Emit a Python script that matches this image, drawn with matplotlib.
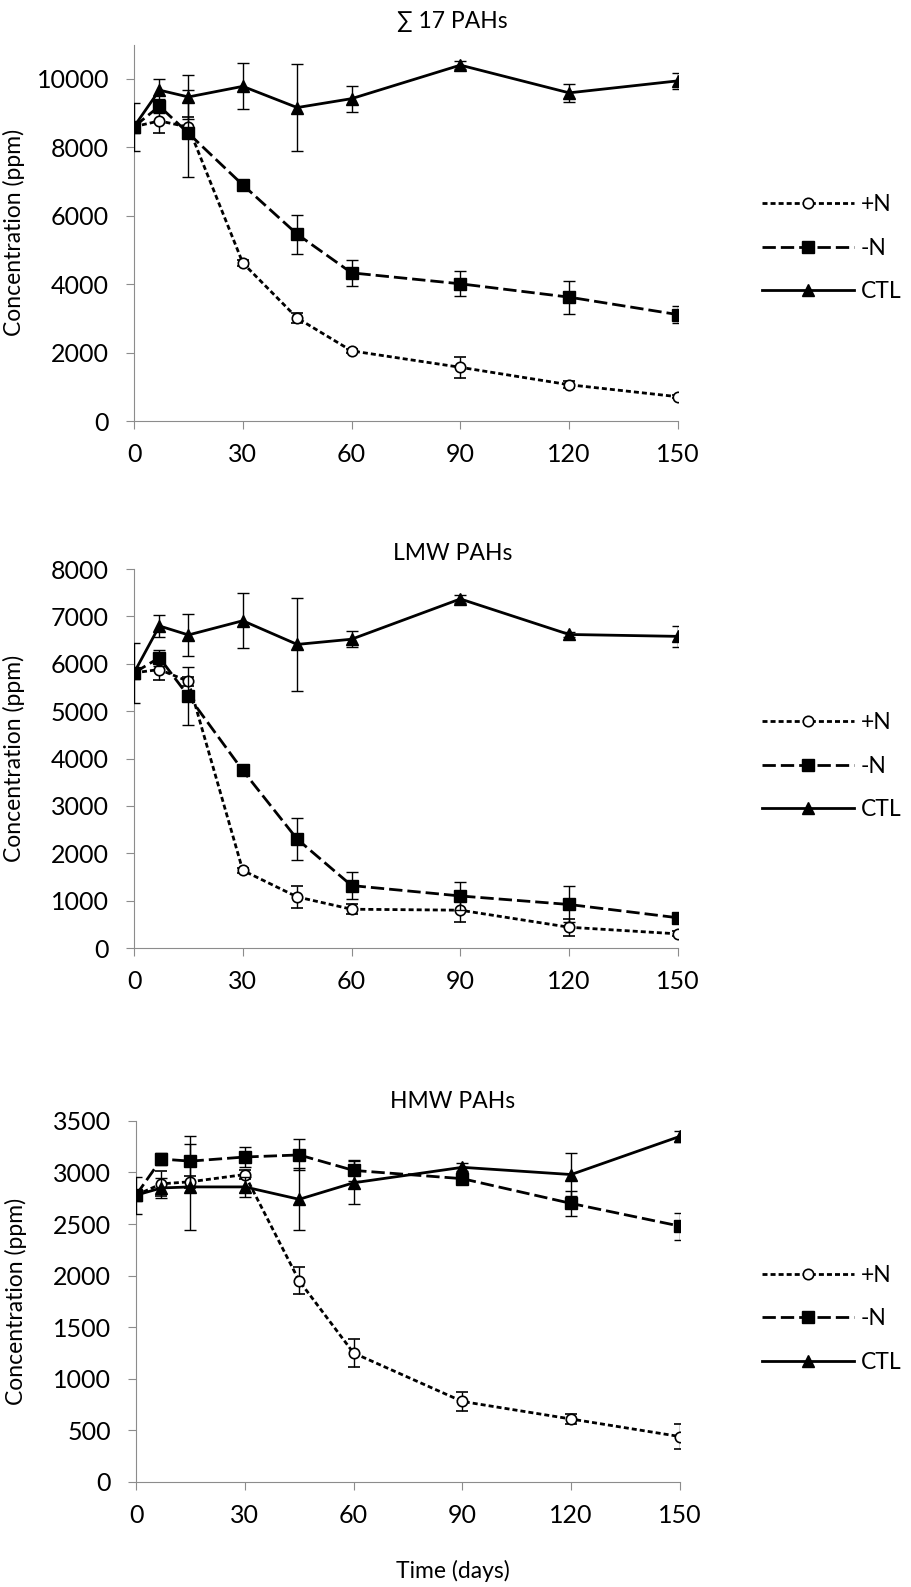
import numpy as np
import matplotlib.pyplot as plt

plt.rcParams['font.family'] = ['Lato', 'DejaVu Sans']

# 采样时间（天）
days = [0, 7, 15, 30, 45, 60, 90, 120, 150]

# ∑ 17 PAHs
tot_pn = [8600, 8770, 8590, 4620, 3010, 2050, 1570, 1060, 710]
tot_pn_err = [0, 350, 300, 80, 150, 50, 310, 100, 50]
tot_mn = [8600, 9200, 8410, 6900, 5460, 4330, 4010, 3620, 3110]
tot_mn_err = [0, 200, 1270, 100, 570, 390, 370, 480, 240]
tot_ctl = [8600, 9670, 9470, 9780, 9160, 9420, 10400, 9590, 9940]
tot_ctl_err = [700, 330, 630, 670, 1280, 380, 120, 270, 230]

# LMW PAHs
lmw_pn = [5810, 5880, 5630, 1640, 1080, 820, 800, 440, 300]
lmw_pn_err = [0, 230, 100, 60, 230, 110, 240, 180, 50]
lmw_mn = [5810, 6130, 5320, 3750, 2300, 1320, 1100, 920, 640]
lmw_mn_err = [0, 170, 610, 60, 450, 290, 300, 380, 100]
lmw_ctl = [5810, 6800, 6610, 6910, 6410, 6520, 7370, 6620, 6580]
lmw_ctl_err = [640, 240, 440, 580, 980, 170, 80, 60, 220]

# HMW PAHs
hmw_pn = [2780, 2890, 2910, 2980, 1950, 1250, 780, 610, 440]
hmw_pn_err = [0, 120, 60, 40, 130, 140, 90, 50, 120]
hmw_mn = [2780, 3130, 3110, 3150, 3170, 3020, 2940, 2700, 2480]
hmw_mn_err = [180, 60, 240, 100, 150, 100, 50, 120, 130]
hmw_ctl = [2780, 2850, 2860, 2860, 2740, 2900, 3050, 2980, 3350]
hmw_ctl_err = [0, 100, 420, 100, 300, 210, 40, 210, 50]

titles = ['∑ 17 PAHs', 'LMW PAHs', 'HMW PAHs']
labels = ['+N', '-N', 'CTL']

fig = plt.figure(figsize=(9.11, 15.87), dpi=100)

# 每个子图的位置 [left, bottom, width, height]、y轴范围、刻度间隔
rects = [[0.1471, 0.7347, 0.597, 0.2372],
         [0.1471, 0.4026, 0.597, 0.2388],
         [0.1493, 0.0662, 0.597, 0.2275]]
ylims = [11000, 8000, 3500]
ytop = [10000, 8000, 3500]
ysteps = [2000, 1000, 500]
title_y = [1 - 22 / 1587, 1 - 554 / 1587, 1 - 1101 / 1587]
leg_y = [0.8437, 0.5173, 0.1689]

data = [
    (tot_pn, tot_pn_err, tot_mn, tot_mn_err, tot_ctl, tot_ctl_err),
    (lmw_pn, lmw_pn_err, lmw_mn, lmw_mn_err, lmw_ctl, lmw_ctl_err),
    (hmw_pn, hmw_pn_err, hmw_mn, hmw_mn_err, hmw_ctl, hmw_ctl_err),
]

fs = 16.5
grey = '#8c8c8c'
for i in range(3):
    ax = fig.add_axes(rects[i])
    pn, pn_e, mn, mn_e, ctl, ctl_e = data[i]

    h1 = ax.errorbar(days, pn, yerr=pn_e, color='black', lw=2, ls=(0, (1.8, 1.1)),
                     marker='o', ms=7.5, mfc='white', mec='black', mew=1.2,
                     ecolor='black', elinewidth=1, capsize=4, capthick=1, zorder=3)
    h2 = ax.errorbar(days, mn, yerr=mn_e, color='black', lw=2, ls=(0, (4.8, 1.8)),
                     marker='s', ms=8, mfc='black', mec='black',
                     ecolor='black', elinewidth=1, capsize=4, capthick=1, zorder=4)
    h3 = ax.errorbar(days, ctl, yerr=ctl_e, color='black', lw=2, ls='-',
                     marker='^', ms=8, mfc='black', mec='black',
                     ecolor='black', elinewidth=1, capsize=4, capthick=1, zorder=5)

    ax.set_xlim(0, 150)
    ax.set_ylim(0, ylims[i])
    ax.set_xticks(np.arange(0, 151, 30))
    ax.set_yticks(np.arange(0, ytop[i] + 1, ysteps[i]))
    ax.tick_params(labelsize=18, direction='out', length=6, color=grey)
    ax.tick_params(axis='x', pad=10)
    ax.tick_params(axis='y', pad=12)
    ax.spines['top'].set_visible(False)
    ax.spines['right'].set_visible(False)
    ax.spines['left'].set_color(grey)
    ax.spines['bottom'].set_color(grey)
    ax.set_ylabel('Concentration (ppm)', fontsize=fs)
    ax.yaxis.set_label_coords(-0.2, 0.5)

    fig.text(0.497, title_y[i], titles[i], fontsize=fs, ha='center', va='center')

    # 图例只显示线和标记，不显示误差线
    ax.legend([h1[0], h2[0], h3[0]], labels, loc='center left',
              bbox_to_anchor=(762 / 911, leg_y[i]),
              bbox_transform=fig.transFigure, frameon=False, fontsize=fs,
              handlelength=4.0, handletextpad=0.3, labelspacing=1.0,
              borderpad=0, borderaxespad=0)

fig.text(0.497, 1 - 1571 / 1587, 'Time (days)', fontsize=fs, ha='center', va='center')

plt.savefig('out.png', dpi=100)
